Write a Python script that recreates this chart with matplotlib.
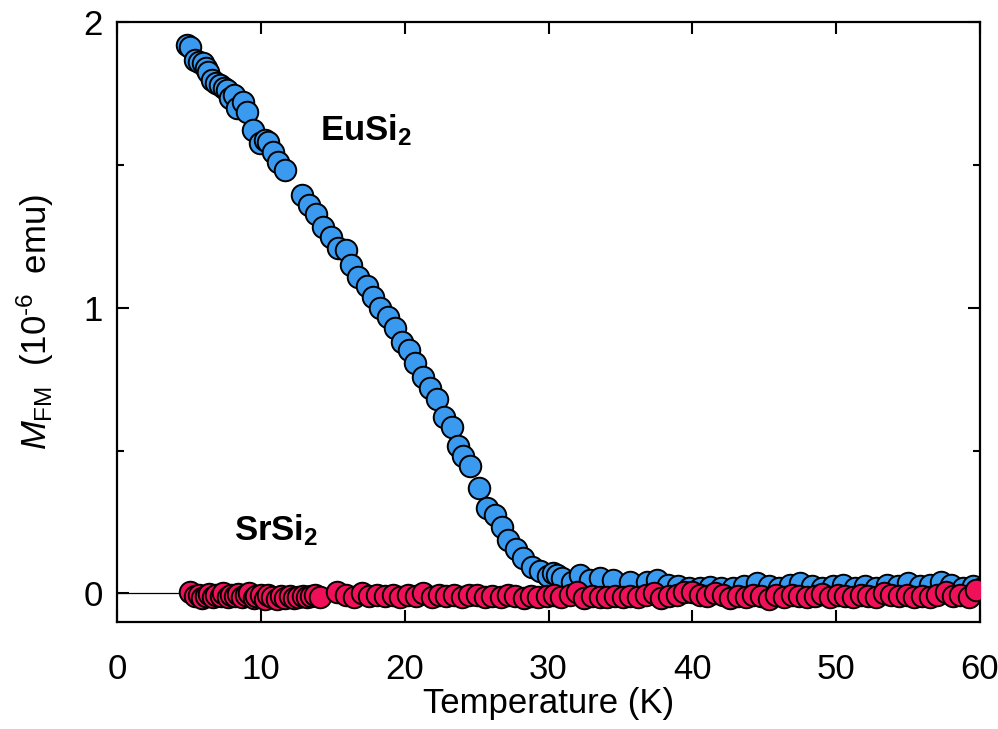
import numpy as np
import matplotlib
matplotlib.use("Agg")
import matplotlib.pyplot as plt
from matplotlib.ticker import MultipleLocator

plt.rcParams['font.family'] = ['Liberation Sans', 'DejaVu Sans']
plt.rcParams['mathtext.fontset'] = 'custom'
plt.rcParams['mathtext.rm'] = 'Liberation Sans'
plt.rcParams['mathtext.it'] = 'Liberation Sans:italic'
plt.rcParams['mathtext.bf'] = 'Liberation Sans:bold'

# EuSi2: temperature (K) and M_FM (1e-6 emu)
t_eu = [4.87, 5.08, 5.42, 5.70, 5.98, 6.19, 6.33, 6.61, 6.88, 7.16,
        7.44, 7.65, 7.86, 8.13, 8.34, 8.76, 9.04, 9.46, 9.94, 10.29,
        10.50, 10.85, 11.19, 11.68, 12.86, 13.35, 13.84, 14.32, 14.88, 15.37,
        15.92, 16.27, 16.76, 17.38, 17.80, 18.29, 18.84, 19.33, 19.82, 20.30,
        20.72, 21.28, 21.76, 22.25, 22.74, 23.29, 23.71, 24.06, 24.54, 25.17,
        25.72, 26.28, 26.77, 27.18, 27.74, 28.23, 28.85, 29.41, 29.97, 30.31,
        30.59, 30.94, 31.63, 32.19, 32.89, 33.58, 34.49, 35.67, 36.85, 37.54,
        38.3, 39.0, 39.8, 40.5, 41.2, 42.0, 42.8, 43.6, 44.5, 45.3,
        46.0, 46.8, 47.5, 48.3, 49.0, 49.8, 50.5, 51.3, 52.0, 52.8,
        53.5, 54.3, 55.0, 55.8, 56.5, 57.3, 58.0, 58.8, 59.5, 60.0]
m_eu = [1.919, 1.912, 1.867, 1.860, 1.856, 1.839, 1.825, 1.797, 1.786, 1.779,
        1.769, 1.762, 1.734, 1.744, 1.699, 1.720, 1.685, 1.622, 1.576, 1.587,
        1.580, 1.545, 1.510, 1.482, 1.394, 1.359, 1.327, 1.282, 1.247, 1.208,
        1.201, 1.149, 1.107, 1.075, 1.037, 0.998, 0.967, 0.928, 0.879, 0.851,
        0.806, 0.757, 0.718, 0.680, 0.616, 0.581, 0.515, 0.480, 0.445, 0.368,
        0.298, 0.273, 0.231, 0.186, 0.154, 0.123, 0.091, 0.077, 0.060, 0.070,
        0.063, 0.053, 0.039, 0.063, 0.046, 0.053, 0.046, 0.039, 0.039, 0.046,
        0.030, 0.025, 0.020, 0.018, 0.022, 0.018, 0.020, 0.025, 0.035, 0.025,
        0.020, 0.030, 0.035, 0.025, 0.020, 0.025, 0.030, 0.020, 0.025, 0.020,
        0.030, 0.025, 0.035, 0.025, 0.030, 0.040, 0.030, 0.020, 0.025, 0.015]

# SrSi2
t_sr = [5.1, 5.4, 5.7, 5.9, 6.2, 6.4, 6.7, 6.9, 7.2, 7.4,
        7.7, 7.9, 8.2, 8.4, 8.7, 9.0, 9.2, 9.5, 9.7, 10.0,
        10.3, 10.5, 10.8, 11.1, 11.4, 11.7, 12.0, 12.3, 12.6, 12.9,
        13.2, 13.5, 13.8, 14.1, 15.3, 15.9, 16.5, 17.0, 17.5, 18.1,
        18.6, 19.2, 19.7, 20.2, 20.8, 21.3, 21.9, 22.4, 22.9, 23.4,
        24.0, 24.5, 25.0, 25.6, 26.1, 26.7, 27.2, 27.7, 28.3, 28.8,
        29.3, 29.9, 30.4, 30.9, 31.5, 32.0, 32.5, 33.0, 33.6, 34.1,
        34.6, 35.2, 35.7, 36.2, 36.8, 37.3, 37.8, 38.4, 38.9, 39.4,
        40.0, 40.5, 41.0, 41.6, 42.1, 42.6, 43.2, 43.7, 44.2, 44.8,
        45.3, 45.8, 46.4, 46.9, 47.4, 48.0, 48.5, 49.0, 49.6, 50.1,
        50.6, 51.2, 51.7, 52.2, 52.8, 53.3, 53.8, 54.4, 54.9, 55.4,
        56.0, 56.5, 57.0, 57.6, 58.1, 58.6, 59.2, 59.7]
m_sr = [0.005, -0.010, -0.005, -0.015, -0.008, -0.002, -0.012, -0.006, -0.010, 0.000,
        -0.014, -0.004, -0.009, -0.002, -0.012, -0.006, 0.002, -0.015, -0.008, -0.004,
        -0.018, -0.006, -0.012, -0.020, -0.008, -0.015, -0.010, -0.016, -0.012, -0.008,
        -0.014, -0.010, -0.006, -0.012, 0.006, -0.004, -0.012, 0.002, -0.010, -0.004,
        -0.008, -0.006, -0.012, -0.004, -0.010, 0.000, -0.012, -0.006, -0.010, -0.004,
        -0.012, -0.006, -0.004, -0.012, -0.008, -0.014, -0.006, -0.010, -0.016, -0.008,
        -0.014, -0.010, -0.004, -0.012, -0.006, 0.004, -0.016, -0.008, -0.012, -0.014,
        -0.010, -0.014, -0.008, -0.012, -0.004, 0.002, -0.016, -0.010, -0.006, 0.006,
        0.004, -0.004, -0.008, 0.002, -0.006, -0.016, -0.010, -0.014, -0.004, -0.010,
        -0.018, -0.006, -0.012, -0.004, -0.010, -0.014, -0.008, -0.002, -0.012, -0.006,
        -0.010, -0.014, -0.004, -0.008, -0.012, 0.002, -0.006, -0.010, -0.004, -0.012,
        -0.008, -0.014, -0.004, 0.004, -0.010, -0.006, -0.012, 0.012]

fig = plt.figure(figsize=(9.98, 7.29), dpi=100)
ax = fig.add_axes([0.1172, 0.1468, 0.8648, 0.823])

ax.axhline(0, color='black', lw=0.9, zorder=1)
ax.plot(t_eu, m_eu, 'o', ms=15.5, mfc='#3a9af0', mec='black', mew=1.4, zorder=2)
ax.plot(t_sr, m_sr, 'o', ms=15.5, mfc='#f0105a', mec='black', mew=1.4, zorder=3)

ax.text(17.3, 1.62, r'EuSi$_\mathbf{2}$', fontsize=25, fontweight='bold', ha='center', va='center')
ax.text(11.1, 0.22, r'SrSi$_\mathbf{2}$', fontsize=25, fontweight='bold', ha='center', va='center')

ax.set_xlim(0, 60)
ax.set_ylim(-0.1, 2.0)
ax.xaxis.set_major_locator(MultipleLocator(10))
ax.yaxis.set_major_locator(MultipleLocator(1))
ax.yaxis.set_minor_locator(MultipleLocator(0.5))
ax.tick_params(which='both', direction='in', top=True, right=True, width=1.5, labelsize=25)
ax.tick_params(which='major', length=8.5)
ax.tick_params(which='minor', length=5)
ax.tick_params(axis='x', which='major', pad=22)
ax.tick_params(axis='y', which='major', pad=10)
for s in ax.spines.values():
    s.set_linewidth(1.6)

ax.set_xlabel('Temperature (K)', fontsize=25, labelpad=1)
ax.set_ylabel(r'$M_{\mathrm{FM}}$  (10$^{\text{-6}}$  emu)', fontsize=25, labelpad=20)

fig.savefig('out.png', dpi=100)
